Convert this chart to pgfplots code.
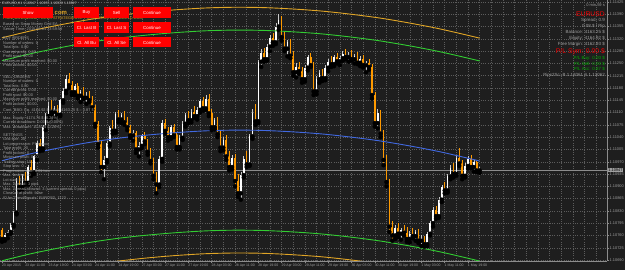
\documentclass[border=0pt]{standalone}
\usepackage{pgfplots}
\pgfplotsset{compat=1.18}
\usepackage{pgfplotstable}
\usepackage{fontspec}
\setmainfont{Liberation Sans}
\definecolor{bg}{HTML}{1E1E1E}
\definecolor{gridc}{HTML}{5C5C5C}
\definecolor{axc}{HTML}{8C8C8C}
\definecolor{txt}{HTML}{A0A0A0}
\definecolor{ttl}{HTML}{C8C8C8}
\definecolor{up}{HTML}{FFFFFF}
\definecolor{upw}{HTML}{C8C8C8}
\definecolor{dn}{HTML}{FF9A00}
\definecolor{chorange}{HTML}{E0A526}
\definecolor{chgreen}{HTML}{32CD32}
\definecolor{chblue}{HTML}{4169E1}
\definecolor{btnred}{HTML}{FF0000}
\definecolor{plred}{HTML}{F00000}
\definecolor{plgreen}{HTML}{00A800}
\definecolor{boxg}{HTML}{A0A0A0}
\newcommand\fsz[1]{\fontsize{#1}{#1}\selectfont}

% EURUSD H1 candles, prices in points: 10757 = 1.10757
\pgfplotstableread{
i O H L C
0 10775 10782 10742 10750
1 10750 10768 10745 10762
2 10762 10775 10752 10770
3 10770 10795 10765 10790
4 10790 10830 10785 10825
5 10825 10925 10820 10915
6 10915 10930 10890 10898
7 10898 10935 10892 10928
8 10928 10940 10905 10910
9 10910 10960 10905 10955
10 10955 10975 10930 10940
11 10940 10990 10935 10985
12 10985 11030 10975 11022
13 11022 11035 11000 11008
14 11008 11075 11002 11068
15 11068 11110 11060 11100
16 11100 11140 11092 11130
17 11130 11145 11105 11112
18 11112 11128 11095 11122
19 11122 11132 11098 11104
20 11104 11150 11100 11145
21 11145 11180 11138 11172
22 11172 11218 11165 11205
23 11205 11222 11180 11188
24 11188 11200 11160 11168
25 11168 11192 11160 11185
26 11185 11195 11150 11158
27 11158 11175 11140 11170
28 11170 11182 11148 11152
29 11152 11168 11135 11160
30 11160 11172 11140 11145
31 11145 11158 11118 11125
32 11125 11132 11070 11078
33 11078 11085 11010 11020
34 11020 11030 10940 10955
35 10955 10985 10920 10975
36 10975 11030 10968 11022
37 11022 11072 11015 11065
38 11065 11090 11050 11058
39 11058 11112 11052 11105
40 11105 11118 11082 11090
41 11090 11110 11080 11102
42 11102 11115 11075 11082
43 11082 11098 11060 11068
44 11068 11075 11038 11045
45 11045 11060 11030 11052
46 11052 11058 10995 11005
47 11005 11025 10985 11015
48 11015 11050 11008 11042
49 11042 11055 11020 11028
50 11028 11035 10990 10998
51 10998 11010 10965 10972
52 10972 10980 10920 10930
53 10930 10942 10880 10905
54 10905 10985 10898 10978
55 10978 11090 10970 11080
56 11080 11092 11050 11058
57 11058 11070 11030 11040
58 11040 11075 11035 11068
59 11068 11078 11040 11045
60 11045 11055 11005 11012
61 11012 11045 11005 11038
62 11038 11085 11032 11078
63 11078 11110 11070 11102
64 11102 11115 11080 11088
65 11088 11120 11082 11112
66 11112 11130 11095 11100
67 11100 11125 11090 11118
68 11118 11150 11110 11142
69 11142 11155 11115 11122
70 11122 11160 11118 11150
71 11150 11162 11100 11108
72 11108 11120 11060 11068
73 11068 11095 11062 11088
74 11088 11098 11040 11048
75 11048 11058 11000 11010
76 11010 11040 11002 11032
77 11032 11045 10975 10985
78 10985 11000 10945 10955
79 10955 10990 10948 10982
80 10982 10992 10900 10915
81 10915 10935 10870 10880
82 10880 10940 10862 10932
83 10932 10985 10925 10978
84 10978 11000 10955 10962
85 10962 11050 10958 11042
86 11042 11120 11035 11110
87 11110 11135 11075 11085
88 11085 11260 11080 11255
89 11255 11290 11240 11280
90 11280 11295 11255 11262
91 11262 11305 11258 11298
92 11298 11330 11285 11322
93 11322 11338 11300 11310
94 11310 11365 11305 11355
95 11355 11390 11345 11375
96 11375 11385 11315 11325
97 11325 11340 11285 11292
98 11292 11318 11270 11310
99 11310 11320 11265 11272
100 11272 11285 11215 11225
101 11225 11250 11210 11240
102 11240 11255 11220 11228
103 11228 11240 11195 11205
104 11205 11245 11198 11238
105 11238 11275 11230 11268
106 11268 11280 11240 11245
107 11245 11255 11160 11170
108 11170 11215 11162 11205
109 11205 11230 11195 11222
110 11222 11235 11200 11208
111 11208 11245 11202 11238
112 11238 11262 11228 11255
113 11255 11270 11240 11248
114 11248 11275 11242 11268
115 11268 11280 11250 11256
116 11256 11272 11245 11265
117 11265 11285 11258 11278
118 11278 11290 11262 11268
119 11268 11282 11255 11275
120 11275 11288 11258 11262
121 11262 11278 11250 11270
122 11270 11282 11248 11252
123 11252 11270 11242 11262
124 11262 11275 11238 11245
125 11245 11258 11225 11250
126 11250 11262 11232 11240
127 11240 11248 11150 11160
128 11160 11170 11070 11080
129 11080 11120 11065 11110
130 11110 11118 11040 11050
131 11050 11060 10960 10975
132 10975 10990 10900 10912
133 10912 10920 10770 10785
134 10785 10800 10745 10760
135 10760 10790 10750 10780
136 10780 10795 10755 10765
137 10765 10782 10748 10775
138 10775 10790 10760 10768
139 10768 10785 10742 10750
140 10750 10772 10740 10765
141 10765 10780 10752 10758
142 10758 10775 10745 10770
143 10770 10778 10738 10745
144 10745 10760 10730 10752
145 10752 10758 10728 10735
146 10735 10770 10730 10765
147 10765 10800 10760 10795
148 10795 10840 10785 10832
149 10832 10845 10808 10815
150 10815 10870 10810 10862
151 10862 10905 10855 10898
152 10898 10912 10880 10888
153 10888 10935 10882 10928
154 10928 10960 10920 10952
155 10952 10965 10925 10935
156 10935 10990 10930 10982
157 10982 11010 10958 10965
158 10965 10975 10920 10930
159 10930 10965 10925 10958
160 10958 10985 10950 10978
161 10978 10988 10950 10955
162 10955 10975 10942 10968
163 10968 10972 10940 10945
164 10945 10955 10938 10947
}\bars

% regression channel lines (points)
\pgfplotstableread{
i blue gu gl ou ol
0 10973 11258 10688 11323 10623
10 10993 11278 10708 11343 10643
20 11010 11295 10725 11360 10660
30 11025 11310 10740 11375 10675
40 11037 11322 10752 11387 10687
50 11046 11331 10761 11396 10696
60 11053 11338 10768 11403 10703
70 11058 11343 10773 11408 10708
80 11060 11345 10775 11410 10710
90 11059 11344 10774 11409 10709
100 11055 11340 10770 11405 10705
110 11049 11334 10764 11399 10699
120 11040 11325 10755 11390 10690
130 11029 11314 10744 11379 10679
140 11015 11300 10730 11365 10665
150 10999 11284 10714 11349 10649
160 10980 11265 10695 11330 10630
164 10972 11257 10687 11322 10622
}\chan

\begin{document}
\begin{tikzpicture}
\useasboundingbox (0,-9bp) rectangle (625bp,261bp);
\fill[bg] (0,-9bp) rectangle (625bp,261bp);
\begin{axis}[
  at={(0,0)}, anchor=south west,
  width=607bp, height=261bp, scale only axis,
  xmin=-0.69, xmax=207.73, ymin=10687.2, ymax=11430.7,
  axis x line*=bottom, axis y line*=right,
  axis line style={draw=axc, line width=0.5bp},
  xtick={0,8,...,160},
  xticklabels={23 Apr 2015, 23 Apr 11:00, 23 Apr 19:00, 24 Apr 03:00, 24 Apr 11:00, 24 Apr 19:00, 27 Apr 03:00, 27 Apr 11:00, 27 Apr 19:00, 28 Apr 03:00, 28 Apr 11:00, 28 Apr 19:00, 29 Apr 03:00, 29 Apr 11:00, 29 Apr 19:00, 30 Apr 03:00, 30 Apr 11:00, 30 Apr 19:00, 1 May 03:00, 1 May 11:00, 1 May 19:00},
  minor xtick={4,8,...,204},
  ytick={10690,10725,...,11425},
  yticklabels={1.10690,1.10725,1.10760,1.10795,1.10830,1.10865,1.10900,1.10935,1.10970,1.11005,1.11040,1.11075,1.11110,1.11145,1.11180,1.11215,1.11250,1.11285,1.11320,1.11355,1.11390,1.11425},
  xmajorgrids=false, xminorgrids=true, ymajorgrids=true,
  grid style={draw=gridc, line width=0.45bp, dash pattern=on 0.9bp off 1.4bp},
  minor grid style={draw=gridc, line width=0.45bp, dash pattern=on 0.9bp off 1.4bp},
  tick align=outside, major tick length=2bp, minor tick length=0pt,
  tick style={draw=axc, line width=0.45bp},
  x tick label style={font=\fsz{3.5}, text=txt, anchor=north west, inner sep=0.4bp, xshift=-0.6bp},
  y tick label style={font=\fsz{3.9}, text=txt, anchor=west, inner sep=0.5bp},
  clip=true,
]
% current price line
\addplot[axc, line width=0.5bp, forget plot] coordinates {(-0.69,10947) (207.73,10947)};
\coordinate (cp) at (axis cs:207.73,10947);
% wicks
\addplot[only marks, mark=none, forget plot,
  restrict expr to domain={\thisrow{C}-\thisrow{O}}{0:100000},
  error bars/.cd, y dir=plus, y explicit, error mark=none,
  error bar style={draw=upw, line width=0.55bp}]
  table[x=i, y=L, y error plus expr=\thisrow{H}-\thisrow{L}] {\bars};
\addplot[only marks, mark=none, forget plot,
  restrict expr to domain={\thisrow{C}-\thisrow{O}}{-100000:-0.1},
  error bars/.cd, y dir=plus, y explicit, error mark=none,
  error bar style={draw=dn, line width=0.55bp}]
  table[x=i, y=L, y error plus expr=\thisrow{H}-\thisrow{L}] {\bars};
% bodies
\addplot[only marks, mark=none, forget plot,
  restrict expr to domain={\thisrow{C}-\thisrow{O}}{0:100000},
  error bars/.cd, y dir=plus, y explicit, error mark=none,
  error bar style={draw=up, line width=1.6bp}]
  table[x=i, y=O, y error plus expr=\thisrow{C}-\thisrow{O}] {\bars};
\addplot[only marks, mark=none, forget plot,
  restrict expr to domain={\thisrow{C}-\thisrow{O}}{-100000:-0.1},
  error bars/.cd, y dir=plus, y explicit, error mark=none,
  error bar style={draw=dn, line width=1.6bp}]
  table[x=i, y=C, y error plus expr=\thisrow{O}-\thisrow{C}] {\bars};
% channel
\addplot[chorange, line width=0.9bp, smooth, forget plot] table[x=i, y=ou] {\chan};
\addplot[chgreen, line width=0.9bp, smooth, forget plot] table[x=i, y=gu] {\chan};
\addplot[chblue, line width=0.9bp, smooth, forget plot] table[x=i, y=blue] {\chan};
\addplot[chgreen, line width=0.9bp, smooth, forget plot] table[x=i, y=gl] {\chan};
\addplot[chorange, line width=0.9bp, smooth, forget plot] table[x=i, y=ol] {\chan};
\end{axis}
\node[fill=boxg, text=black, font=\fsz{3.9}, inner sep=0.6bp, anchor=west] at ([xshift=0.6bp]cp) {1.10947};

\begin{scope}[x=1bp, y=-1bp, shift={(0bp,261bp)}]
% title
\node[anchor=base west, inner sep=0, text=ttl, font=\fsz{3.5}] at (2,4.6) {EURUSD,H1  1.10947 1.10955 1.10938 1.10947};
% visible end of the website line beside the button
\node[anchor=base west, inner sep=0, text=chorange, font=\fsz{6}\bfseries] at (54.5,15) {com};
\node[anchor=base west, inner sep=0, text=chorange, font=\fsz{3.9}] at (3,20) {FREE DOWNLOAD FOREX STRATEGIES AT FOREXSTRATEGYWORLD.COM};
% comment block
\foreach \yy/\tt in {
  26/Based on Swap Money Grid EA,
  30.5/Server Time: 2015.05.01 23:59:58,
  40/BUY ORDERS,
  44.5/Number of orders: 0,
  49/Total lots: 0.00,
  53.5/Current profit: 0.00,
  58/Profit goal: \$0.00,
  62.5/Maximum profit reached: \$0.00,
  67/Profit locked: \$0.00,
  78.5/SELL ORDERS,
  83/Number of orders: 0,
  87.5/Total lots: 0.00,
  92/Current profit: 0.00,
  96.5/Profit goal: \$0.00,
  101/Maximum profit reached: \$0.00,
  105.5/Profit locked: \$0.00,
  112/Cont. BBO: Eq. 4164.92 \$ -- Bal. 4163.25 \$ -- 0.87 \$,
  119.5/Max. Equity: 4174.76 \$ (0.24\%),
  124/Current drawdown: 0.00 \$ (0.00\%),
  128.5/Max. drawdown: 10.83 \$ (0.26\%),
  136.5/SETTINGS,
  141/Grid size: 20,
  145.5/Lot progression: Fibonacci,
  150/Take profit: 20,
  154.5/Profit locked: 0,
  159/Minimum profit: 0.00,
  163.5/Trailing stop: 10,
  168/Stop loss: 0,
  172.5/Progression start: 0.01 lots,
  177/Max. orders: 10,
  181.5/Lot size: 0.01,
  186/Max. Spread: 3 pips,
  190.5/Max. Spread allowed: 3 (current spread: 0 pips),
  195/Close all at profit: false,
  199.5/ID for TrendSignals: EURUSD\_1123}
  {\node[anchor=base west, inner sep=0, text=txt, font=\fsz{3.9}] at (3,\yy) {\tt};}
% buttons
\foreach \xa/\xb/\ya/\yb/\lab in {
  3/53/7/18/Show/Hide Comment,
  74/99/7/18/Buy, 104/129/7/18/Sell, 133/171/7/18/Continue,
  74/99/22/33/Cl. Last B, 104/129/22/33/Cl. Last S, 133/171/22/33/Continue,
  74/99/37/47.5/Cl. All Bu, 104/129/37/47.5/Cl. All Se, 133/171/37/47.5/Continue}
  {\fill[btnred] (\xa,\ya) rectangle (\xb,\yb);
   \node[text=white, font=\fsz{4.4}, inner sep=0] at ({(\xa+\xb)/2},{(\ya+\yb)/2+0.3}) {\lab};}
% right info panel
\node[anchor=base east, inner sep=0, text=txt, font=\fsz{4}] at (605,6.5) {0 min 59 s};
\node[anchor=base east, inner sep=0, text=plred, font=\fsz{6.8}] at (605,16.5) {EURUSD};
\node[anchor=base east, inner sep=0, text=txt, font=\fsz{4.5}] at (605,21.5) {Spread: 0.9};
\node[anchor=base east, inner sep=0, text=txt, font=\fsz{4.5}] at (605,27.5) {0.08 \$ / Pip};
\node[anchor=base east, inner sep=0, text=txt, font=\fsz{4.5}] at (605,33.5) {Balance: 4163.25 \$};
\node[anchor=base east, inner sep=0, text=txt, font=\fsz{4.5}] at (605,39.5) {Equity: 4164.92 \$};
\node[anchor=base east, inner sep=0, text=txt, font=\fsz{4.5}] at (605,45.5) {Free Margin: 4162.93 \$};
\node[anchor=base east, inner sep=0, text=plred, font=\fsz{6.8}] at (605,53.5) {P/L Sym: 0.00 \$};
\node[anchor=base east, inner sep=0, text=plgreen, font=\fsz{4.5}] at (605,59.5) {P/L Buy: 0.00 \$};
\node[anchor=base east, inner sep=0, text=plgreen, font=\fsz{4.5}] at (605,65.5) {P/L Sell: 0.00 \$};
\node[anchor=base east, inner sep=0, text=plgreen, font=\fsz{4.5}] at (605,71) {P/L Acc: 0.87 \$};
\node[anchor=base east, inner sep=0, text=txt, font=\fsz{4.5}] at (605,76.5) {Pips2Sc: B 1.12061  S 1.12062};
\end{scope}
\end{tikzpicture}
\end{document}
